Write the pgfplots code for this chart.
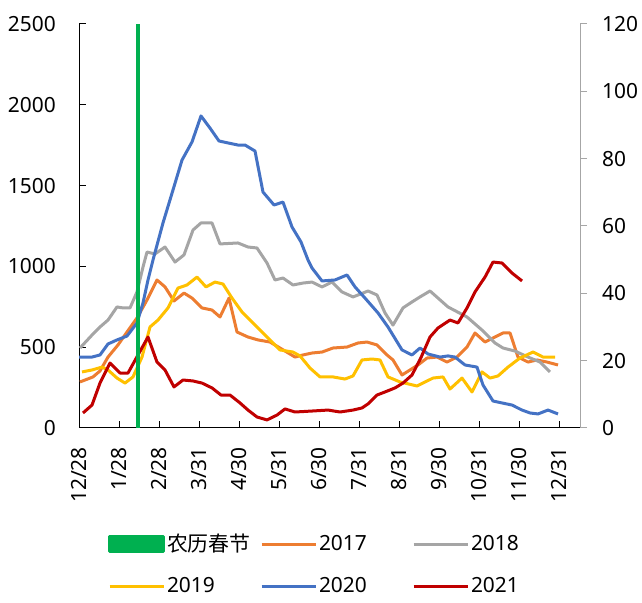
\documentclass[border=0pt]{standalone}
\usepackage{pgfplots}
\pgfplotsset{compat=1.18}
\usepackage{fontspec}
\setmainfont{Noto Sans}
\newfontfamily\cjk{Noto Sans CJK SC}
\definecolor{cA}{HTML}{ED7D31}
\definecolor{cB}{HTML}{A5A5A5}
\definecolor{cC}{HTML}{FFC000}
\definecolor{cD}{HTML}{4472C4}
\definecolor{cE}{HTML}{C00000}
\definecolor{cG}{HTML}{00B050}
\definecolor{cAx}{HTML}{A6A6A6}
\newcommand{\fs}{\fontsize{21}{25}\selectfont}
\begin{document}
\fs
\begin{tikzpicture}
\begin{axis}[
  scale only axis, width=501bp, height=404bp,
  at={(79bp,175bp)}, anchor=south west,
  xmin=79, xmax=580, ymin=0, ymax=2500,
  axis x line*=bottom, axis y line*=left,
  axis line style={-, black, line width=1bp},
  xtick={79,119,159,199,239,279,319,359,399,439,479,519,559},
  xticklabels={12/28,1/28,2/28,3/31,4/30,5/31,6/30,7/31,8/31,9/30,10/31,11/30,12/31},
  ytick={0,500,1000,1500,2000,2500},
  tick align=inside, major tick length=7bp,
  tick style={black, line width=1bp},
  /pgf/number format/assume math mode=true,
  /pgf/number format/1000 sep={},
  tick label style={font=\fs},
  xticklabel style={rotate=90, anchor=east, inner sep=0pt},
  xticklabel shift=19bp,
  yticklabel style={inner sep=0pt},
  yticklabel shift=23bp,
  legend columns=3,
  legend cell align=left,
  legend style={draw=none, fill=none, font=\fs, inner sep=0pt, outer sep=0pt,
    at={(axis description cs:0.0579,-0.250)}, anchor=north west,
    nodes={inner xsep=2bp, inner ysep=5bp},
    row sep=13bp,
    /tikz/every even column/.append style={column sep=4bp}},
  legend image code/.code={\draw[#1] (0bp,0bp) -- (54bp,0bp);},
  every axis plot/.append style={line width=3bp, line join=round},
]
% 2017
\addplot[cA, forget plot] coordinates {
(80,285)(93,316)(100,353)(108,439)(118,514)(127,594)(137,681)(147,792)(157,916)(165,873)
(174,786)(184,835)(192,804)(202,743)(212,730)(220,687)(229,804)(237,594)(248,563)(258,545)
(270,532)(280,495)(295,439)(303,452)(312,464)(322,470)(333,495)(347,501)(358,526)(367,532)
(377,514)(387,452)(393,421)(402,328)(410,359)(418,390)(427,433)(437,439)(447,408)(457,439)
(467,501)(475,588)(485,532)(495,563)(503,588)(510,588)(518,439)(528,408)(537,421)(547,408)(558,390)};
% 2018
\addplot[cB, forget plot] coordinates {
(80,495)(92,575)(100,625)(108,668)(117,749)(123,743)(130,743)(137,842)(143,996)(147,1089)
(155,1077)(165,1120)(175,1027)(184,1071)(193,1225)(201,1269)(212,1269)(220,1139)(238,1145)(248,1120)
(257,1114)(267,1021)(275,916)(283,928)(293,885)(303,897)(312,903)(322,873)(332,903)(342,842)
(353,811)(363,835)(368,848)(377,823)(385,712)(393,637)(403,743)(412,780)(420,811)(430,848)
(448,749)(467,687)(482,606)(495,526)(503,495)(515,476)(528,439)(540,408)(550,347)};
% 2019
\addplot[cC, forget plot] coordinates {
(82,347)(92,359)(102,377)(108,359)(117,309)(125,278)(133,316)(142,439)(150,625)(158,668)
(168,743)(178,866)(187,885)(197,934)(206,873)(215,903)(223,891)(232,804)(242,718)(250,668)
(255,637)(268,557)(280,483)(293,470)(300,446)(310,371)(320,316)(333,316)(345,303)(353,322)
(362,421)(372,427)(380,421)(388,316)(400,285)(417,260)(433,309)(443,316)(450,241)(462,309)
(472,223)(482,347)(490,309)(498,322)(508,377)(520,433)(533,470)(543,439)(555,439)};
% 2020
\addplot[cD, forget plot] coordinates {
(79,439)(92,439)(100,452)(108,520)(117,545)(127,569)(137,650)(143,774)(148,916)(153,1040)
(163,1269)(173,1473)(182,1658)(192,1770)(201,1931)(210,1856)(219,1776)(228,1764)(238,1751)(245,1751)
(255,1714)(263,1460)(274,1380)(283,1398)(292,1244)(301,1151)(308,1040)(312,990)(322,910)(335,916)
(347,947)(355,873)(365,804)(378,712)(388,625)(402,483)(412,452)(420,495)(428,458)(440,439)
(448,446)(455,439)(465,390)(477,377)(483,266)(493,167)(502,155)(512,142)(522,111)(530,93)
(538,87)(548,111)(558,87)};
% 2021
\addplot[cE, forget plot] coordinates {
(83,93)(92,142)(100,278)(110,402)(120,340)(128,340)(138,452)(148,563)(157,408)(165,359)
(174,254)(183,297)(193,291)(202,278)(212,248)(221,204)(230,204)(240,155)(248,111)(257,68)
(267,50)(277,80)(285,118)(295,99)(312,105)(328,111)(340,99)(353,111)(362,124)(368,149)
(377,204)(385,223)(395,248)(403,278)(412,328)(421,436)(430,563)(438,619)(450,668)(458,650)
(467,743)(475,842)(485,934)(493,1027)(502,1021)(512,959)(522,910)};
% Spring festival
\addplot[cG, line width=4bp, line cap=butt, forget plot] coordinates {(138,0)(138,2500)};
\addlegendimage{legend image code/.code={\fill[cG] (0bp,-7.5bp) rectangle (54bp,7.5bp);}}
\addlegendentry{\makebox[87bp][l]{\cjk 农历春节}}
\addlegendimage{cA, line width=3bp}
\addlegendentry{\makebox[87bp][l]{2017}}
\addlegendimage{cB, line width=3bp}
\addlegendentry{\makebox[87bp][l]{2018}}
\addlegendimage{cC, line width=3bp}
\addlegendentry{\makebox[87bp][l]{2019}}
\addlegendimage{cD, line width=3bp}
\addlegendentry{\makebox[87bp][l]{2020}}
\addlegendimage{cE, line width=3bp}
\addlegendentry{\makebox[87bp][l]{2021}}
\end{axis}
\begin{axis}[
  scale only axis, width=501bp, height=404bp,
  at={(79bp,175bp)}, anchor=south west,
  xmin=79, xmax=580, ymin=0, ymax=120,
  hide x axis,
  axis y line*=right,
  axis line style={-, cAx, line width=1bp},
  ytick={0,20,40,60,80,100,120},
  tick align=outside, major tick length=7bp,
  tick style={cAx, line width=1bp},
  /pgf/number format/assume math mode=true,
  tick label style={font=\fs},
  yticklabel style={inner sep=0pt},
  yticklabel shift=15bp,
]
\addplot[draw=none, forget plot] coordinates {(100,0)};
\end{axis}
\pgfresetboundingbox
\useasboundingbox (0,0) rectangle (642bp,603bp);
\end{tikzpicture}
\end{document}
